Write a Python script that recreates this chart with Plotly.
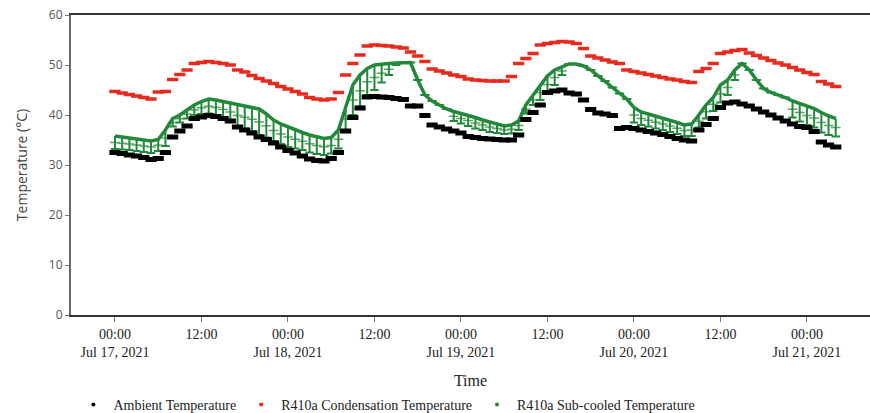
import pandas as pd
import plotly.graph_objects as go

# Hourly readings, Jul 17 2021 00:00 -> Jul 21 2021 04:00
start_time = "2021-07-17 00:00"
n_hours = 101

ambient = [
    32.5, 32.3, 32.0, 31.8, 31.5, 31.1, 31.3, 32.5, 35.6, 36.8,
    37.8, 39.3, 39.6, 39.9, 39.7, 39.3, 38.8, 37.6, 37.0, 36.4,
    35.6, 35.1, 34.4, 33.6, 32.9, 32.4, 31.8, 31.2, 30.9, 30.8,
    31.3, 32.5, 36.8, 39.5, 41.4, 43.6, 43.7, 43.6, 43.5, 43.3,
    43.1, 41.8, 41.8, 39.9, 38.0, 37.6, 37.2, 36.8, 36.4, 35.7,
    35.5, 35.3, 35.2, 35.1, 35.0, 35.0, 36.0, 39.1, 40.5, 42.0,
    44.5, 44.8, 45.0, 44.4, 44.2, 43.0, 41.1, 40.4, 40.2, 39.9,
    37.3, 37.5, 37.3, 37.0, 36.7, 36.4, 36.1, 35.7, 35.3, 35.0,
    34.8, 37.0, 38.1, 39.3, 41.5, 42.4, 42.6, 42.2, 41.8, 41.2,
    40.6, 40.0, 39.4, 38.8, 38.2, 37.7, 37.5, 36.7, 34.6, 34.0,
    33.6,
]

condensation = [
    44.7, 44.4, 44.1, 43.8, 43.5, 43.2, 44.6, 44.7, 47.1, 48.1,
    49.0, 50.3, 50.5, 50.7, 50.5, 50.3, 50.0, 49.0, 48.6, 47.9,
    47.3, 46.8, 46.3, 45.7, 45.2, 44.7, 44.2, 43.5, 43.2, 43.0,
    43.2, 44.5, 48.0, 50.3, 52.0, 53.8, 54.0, 53.9, 53.8, 53.6,
    53.4, 52.6, 51.8, 50.7, 49.2, 48.8, 48.4, 48.0, 47.7, 47.2,
    47.0, 46.9, 46.8, 46.8, 46.8, 47.7, 50.3, 51.3, 52.3, 54.0,
    54.3, 54.5, 54.7, 54.6, 54.3, 53.3, 51.8, 51.4, 51.0, 50.6,
    50.3, 49.0, 48.7, 48.4, 48.1, 47.8, 47.5, 47.2, 47.0, 46.7,
    46.5, 48.7, 49.3, 50.3, 52.3, 52.6, 52.9, 53.1, 52.4, 51.9,
    51.4, 50.9, 50.4, 50.0, 49.5, 49.0, 48.5, 48.1, 46.7, 46.2,
    45.7,
]

subcooled_high = [
    35.8, 35.6, 35.4, 35.2, 35.0, 34.8, 35.1, 37.0, 39.3, 40.0,
    41.0, 42.0, 42.7, 43.2, 43.0, 42.7, 42.4, 42.0, 41.8, 41.5,
    41.2, 40.2, 39.0, 38.2, 37.6, 37.0, 36.5, 36.0, 35.6, 35.3,
    35.5, 37.0, 41.5, 46.0, 48.0, 49.3, 50.0, 50.2, 50.3, 50.4,
    50.5, 50.5, 47.0, 44.0, 42.8, 42.0, 41.2, 40.7, 40.3, 40.0,
    39.5, 39.0, 38.6, 38.2, 37.8, 38.0, 38.8, 42.0, 44.0, 46.0,
    47.8, 49.0, 49.6, 50.2, 50.2, 49.8, 49.0, 47.8, 46.8, 45.5,
    44.3, 43.2, 41.5, 40.6, 40.2, 39.8, 39.4, 39.0, 38.5, 38.0,
    38.2, 40.0, 42.0, 43.5, 46.0, 47.0, 49.0, 50.3, 49.0, 47.0,
    45.3, 44.5, 44.0, 43.5, 42.8, 42.3, 41.8, 41.3, 40.5, 39.8,
    39.3,
]

subcooled_low = [
    33.2, 33.1, 33.0, 32.8, 32.6, 32.4, 32.8, 33.8, 37.7, 38.5,
    39.3, 40.0, 40.2, 40.3, 40.0, 39.5, 38.8, 37.8, 37.3, 36.8,
    36.0, 35.5, 34.8, 34.2, 33.6, 33.3, 33.0, 32.5, 32.2, 32.0,
    32.3, 33.3, 37.0, 40.0, 41.7, 44.0, 45.0, 46.5, 48.0, 50.0,
    50.5, 50.5, 47.0, 44.0, 42.8, 42.0, 41.2, 38.8, 38.3, 37.8,
    37.3, 37.0, 36.6, 36.4, 36.2, 36.3, 37.0, 40.3, 42.0, 43.0,
    44.4, 46.0, 48.0, 50.2, 50.2, 49.8, 49.0, 47.8, 46.8, 45.5,
    44.3, 43.2, 38.5, 38.0, 37.7, 37.3, 37.0, 36.6, 36.2, 35.8,
    35.8, 37.5, 39.3, 40.8, 42.5, 44.0, 47.0, 50.3, 49.0, 47.0,
    45.3, 44.5, 44.0, 43.5, 39.5, 38.7, 38.0, 37.5, 36.5, 36.0,
    35.7,
]

series_names = [
    "Ambient Temperature",
    "R410a Condensation Temperature",
    "R410a Sub-cooled Temperature",
]
y_ticks = [0, 10, 20, 30, 40, 50, 60]

times = pd.date_range(start_time, periods=n_hours, freq="h")

BLACK = "#000000"
RED = "#e8291e"
GREEN = "#23893a"

fig = go.Figure()

spread = [h - l for h, l in zip(subcooled_high, subcooled_low)]
mid = [(h + l) / 2 for h, l in zip(subcooled_high, subcooled_low)]

# sub-cooled: spread as vertical ribs, dotted rows, then the top band
fig.add_trace(go.Scatter(
    x=times, y=subcooled_high, mode="markers", showlegend=False,
    marker=dict(size=1, color="rgba(0,0,0,0)"),
    error_y=dict(type="data", symmetric=False, array=[0] * n_hours,
                 arrayminus=spread, color=GREEN, thickness=2, width=0),
))
fig.add_trace(go.Scatter(
    x=times, y=mid, mode="markers", showlegend=False,
    marker=dict(symbol="line-ew", size=7, line=dict(width=1.5, color=GREEN), color=GREEN),
    opacity=0.75,
))
fig.add_trace(go.Scatter(
    x=times, y=subcooled_low, mode="markers", showlegend=False,
    marker=dict(symbol="line-ew", size=6, line=dict(width=2, color=GREEN), color=GREEN),
))
fig.add_trace(go.Scatter(
    x=times, y=subcooled_high, mode="lines", showlegend=False,
    line=dict(color=GREEN, width=3.5),
))
fig.add_trace(go.Scatter(
    x=times, y=ambient, mode="markers", showlegend=False,
    marker=dict(symbol="line-ew", size=8, line=dict(width=5, color=BLACK), color=BLACK),
))
fig.add_trace(go.Scatter(
    x=times, y=condensation, mode="markers", showlegend=False,
    marker=dict(symbol="line-ew", size=8, line=dict(width=3.5, color=RED), color=RED),
))

# legend entries
for name, col in zip(series_names, [BLACK, RED, GREEN]):
    fig.add_trace(go.Scatter(
        x=[None], y=[None], mode="markers", name=name,
        marker=dict(symbol="circle", size=4, color=col),
    ))

fig.update_layout(
    width=870, height=413,
    margin=dict(l=71, r=0, t=15, b=98, autoexpand=False),
    plot_bgcolor="white", paper_bgcolor="white",
    font=dict(family="Liberation Serif, Times New Roman, serif", size=14, color="#222"),
    legend=dict(orientation="h", x=0.003, y=-0.3, xanchor="left", yanchor="middle",
                font=dict(family="Liberation Serif, serif", size=14, color="#222"),
                itemwidth=30, tracegroupgap=0),
    showlegend=True,
)

fig.update_xaxes(
    type="date", automargin=False,
    range=["2021-07-16 17:54", "2021-07-21 08:45"],
    tick0="2021-07-17 00:00", dtick=12 * 3600 * 1000,
    showgrid=False, zeroline=False,
    showline=True, linecolor="#333", linewidth=1.5, mirror=True,
    ticks="outside", ticklen=5, tickcolor="#777", tickwidth=1,
    tickfont=dict(family="Liberation Serif, serif", size=14, color="#222"),
    title=dict(text="Time", font=dict(family="Liberation Serif, serif", size=16, color="#222"), standoff=16),
)
fig.update_yaxes(
    automargin=False,
    range=[0, 60], tickvals=y_ticks,
    showgrid=False, zeroline=False,
    showline=True, linecolor="#666", linewidth=2,
    ticks="outside", ticklen=4, tickcolor="#777", tickwidth=1,
    tickfont=dict(family="Open Sans, sans-serif", size=12, color="#555"),
    title=dict(text="Temperature (°C)", font=dict(family="Open Sans, sans-serif", size=14, color="#444"), standoff=18),
)

fig.write_html("out.html")
